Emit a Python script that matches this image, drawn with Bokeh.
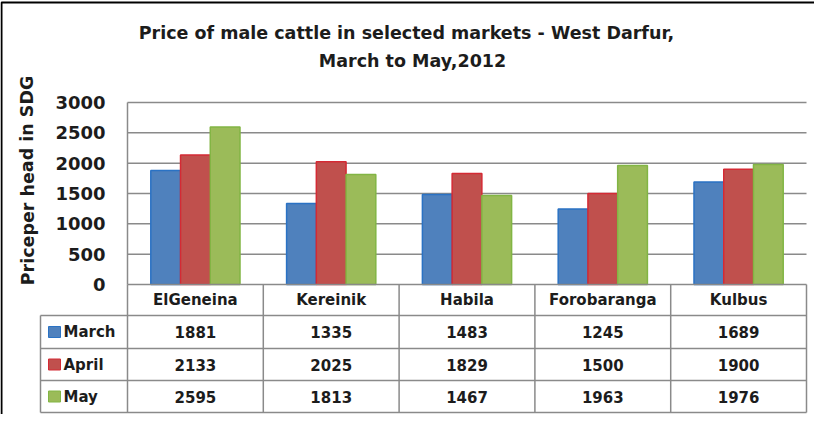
from bokeh.plotting import figure
from bokeh.models import Range1d
from bokeh.core.properties import value
from bokeh.embed import file_html
from bokeh.resources import INLINE

# ---------------- data ----------------
markets = ["ElGeneina", "Kereinik", "Habila", "Forobaranga", "Kulbus"]
months = ["March", "April", "May"]
march = [1881, 1335, 1483, 1245, 1689]
april = [2133, 2025, 1829, 1500, 1900]
may = [2595, 1813, 1467, 1963, 1976]
y_ticks = [0, 500, 1000, 1500, 2000, 2500, 3000]
title_lines = ["Price of male  cattle  in selected markets - West Darfur,", "March to May,2012"]
y_title = "Priceper head in SDG"

fills = ["#4F81BD", "#C0504D", "#9BBB59"]
edges = ["#2A72C4", "#D42A34", "#82B544"]

# ---------------- layout helpers (page pixels -> data) ----------------
PX0, PX5 = 135.0, 814.0      # plot-area left / right in page px
PY0, PY3000 = 292.0, 110.0   # y value 0 / 3000 in page px
XU = (PX5 - PX0) / 5.0
YU = 3000.0 / (PY0 - PY3000)
W, H = 814, 414
def X(px): return (px - PX0) / XU
def Y(py): return (PY0 - py) * YU

p = figure(width=W, height=H, output_backend="svg", toolbar_location=None,
           x_range=Range1d(X(8), X(8 + W)), y_range=Range1d(Y(8 + H), Y(8)),
           min_border=0, min_border_left=0, min_border_right=0,
           min_border_top=0, min_border_bottom=0)
p.axis.visible = False
p.grid.visible = False
p.outline_line_color = None
p.background_fill_color = "white"
p.border_fill_color = "white"

FONT = value("DejaVu Sans")
TXT = "#1c1c1c"
GRID = "#8a8a8a"

# outer frame (only left/top visible)
p.quad(left=[X(9)], right=[X(900)], top=[Y(10)], bottom=[Y(500)],
       fill_color=None, line_color="black", line_width=2)

# gridlines
n = len(markets)
gy = [t for t in y_ticks if t > 0]
p.segment(x0=[0] * len(gy), x1=[n] * len(gy), y0=gy, y1=gy, line_color=GRID, line_width=1.5)
# left axis line
p.segment(x0=[0], x1=[0], y0=[0], y1=[y_ticks[-1]], line_color=GRID, line_width=1.5)

# bars
bw = 0.219
series = [march, april, may]
for k, vals in enumerate(series):
    xs = [i + 0.5 + (k - 1) * bw for i in range(n)]
    p.vbar(x=xs, top=vals, bottom=0, width=bw, fill_color=fills[k],
           line_color=edges[k], line_width=1.5)

# y tick labels
p.text(x=[X(113)] * len(y_ticks), y=y_ticks, text=[str(t) for t in y_ticks],
       text_align="right", text_baseline="middle", text_font=FONT,
       text_font_style="bold", text_font_size="18px", text_color=TXT)

# y axis title
p.text(x=[X(35)], y=[Y(188)], text=[y_title], angle=1.5708, text_align="center",
       text_baseline="middle", text_font=FONT, text_font_style="bold",
       text_font_size="17.5px", text_color=TXT)

# chart title
p.text(x=[X(420)] * 2, y=[Y(40), Y(68)], text=title_lines, text_align="center",
       text_baseline="middle", text_font=FONT, text_font_style="bold",
       text_font_size="17.5px", text_color=TXT)

# ---------------- data table ----------------
rows_py = [292, 323, 356, 388, 420]
LEG_L = X(48)
# horizontal lines
p.segment(x0=[0], x1=[n], y0=[0], y1=[0], line_color=GRID, line_width=1.5)
hy = [Y(r) for r in rows_py[1:]]
p.segment(x0=[LEG_L] * len(hy), x1=[n] * len(hy), y0=hy, y1=hy, line_color=GRID, line_width=1.5)
# vertical lines
p.segment(x0=list(range(n + 1)), x1=list(range(n + 1)), y0=[0] * (n + 1),
          y1=[Y(rows_py[-1])] * (n + 1), line_color=GRID, line_width=1.5)
p.segment(x0=[LEG_L], x1=[LEG_L], y0=[Y(rows_py[1])], y1=[Y(rows_py[-1])],
          line_color=GRID, line_width=1.5)

# category labels
cy = Y((rows_py[0] + rows_py[1]) / 2)
p.text(x=[i + 0.5 for i in range(n)], y=[cy] * n, text=markets, text_align="center",
       text_baseline="middle", text_font=FONT, text_font_style="bold",
       text_font_size="15px", text_color=TXT)

for k, vals in enumerate(series):
    ry = Y((rows_py[k + 1] + rows_py[k + 2]) / 2)
    p.text(x=[i + 0.5 for i in range(n)], y=[ry] * n, text=[str(v) for v in vals],
           text_align="center", text_baseline="middle", text_font=FONT,
           text_font_style="bold", text_font_size="15px", text_color=TXT)
    # legend key
    mid = (rows_py[k + 1] + rows_py[k + 2]) / 2
    p.quad(left=[X(56)], right=[X(68)], top=[Y(mid - 5.5)], bottom=[Y(mid + 5.5)],
           fill_color=fills[k], line_color=edges[k], line_width=1)
    p.text(x=[X(71)], y=[ry], text=[months[k]], text_align="left", text_baseline="middle",
           text_font=FONT, text_font_style="bold", text_font_size="15px", text_color=TXT)

open("out.html", "w").write(file_html(p, INLINE))
